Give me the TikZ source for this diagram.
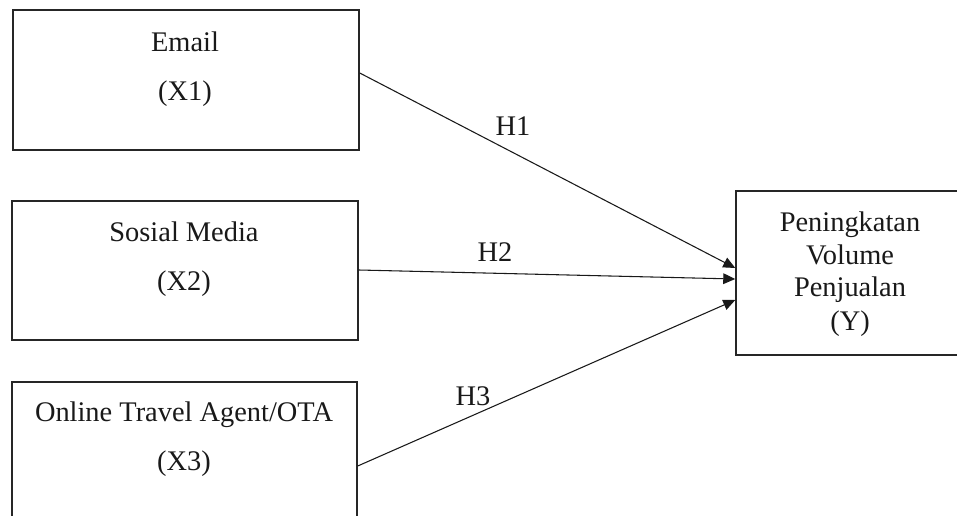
\documentclass[tikz,border=0pt]{standalone}
\usepackage{fontspec}
\setmainfont{Liberation Serif}
\usetikzlibrary{arrows.meta,fit}
\begin{document}
\begin{tikzpicture}[x=0.75pt,y=-0.75pt,
  box/.style={draw=black!85,line width=1.1pt,inner sep=0pt,fit={#1}},
  lbl/.style={inner sep=0pt,anchor=base,font=\fontsize{21.3}{25}\selectfont,text=black!90},
  conn/.style={draw=black!90,line width=0.8pt,-{Triangle[length=9pt,width=8pt]}}]
\useasboundingbox (0,0) rectangle (957,516);
\clip (0,0) rectangle (957,516);
\fill[white] (0,0) rectangle (957,516);
% boxes
\node (b1) [box={(13,10) (359,150)}] {};
\node (b2) [box={(12,201) (358,340)}] {};
\node (b3) [box={(12,382) (357,530)}] {};
\node (by) [box={(736,191) (970,355)}] {};
% texts
\node (t1a) [lbl] at (185,52) {Email};
\node (t1b) [lbl] at (185,101) {(X1)};
\node (t2a) [lbl] at (184,242) {Sosial Media};
\node (t2b) [lbl] at (184,291) {(X2)};
\node (t3a) [lbl] at (184,422) {Online Travel Agent/OTA};
\node (t3b) [lbl] at (184,471) {(X3)};
\node (ty1) [lbl] at (850,232) {Peningkatan};
\node (ty2) [lbl] at (850,265) {Volume};
\node (ty3) [lbl] at (850,297) {Penjualan};
\node (ty4) [lbl] at (850,331) {(Y)};
% connector end points
\coordinate (s1) at (b1.east |- 0,73);
\coordinate (s2) at (b2.east |- 0,270);
\coordinate (s3) at (b3.east |- 0,466);
\coordinate (e1) at (by.west |- 0,268);
\coordinate (e2) at (by.west |- 0,279);
\coordinate (e3) at (by.west |- 0,300);
\draw[conn] (s1) -- (e1);
\draw[conn] (s2) -- (e2);
\draw[conn] (s3) -- (e3);
% labels
\node (h1) [lbl] at (513,136) {H1};
\node (h2) [lbl] at (495,262) {H2};
\node (h3) [lbl] at (473,406) {H3};
\end{tikzpicture}
\end{document}
